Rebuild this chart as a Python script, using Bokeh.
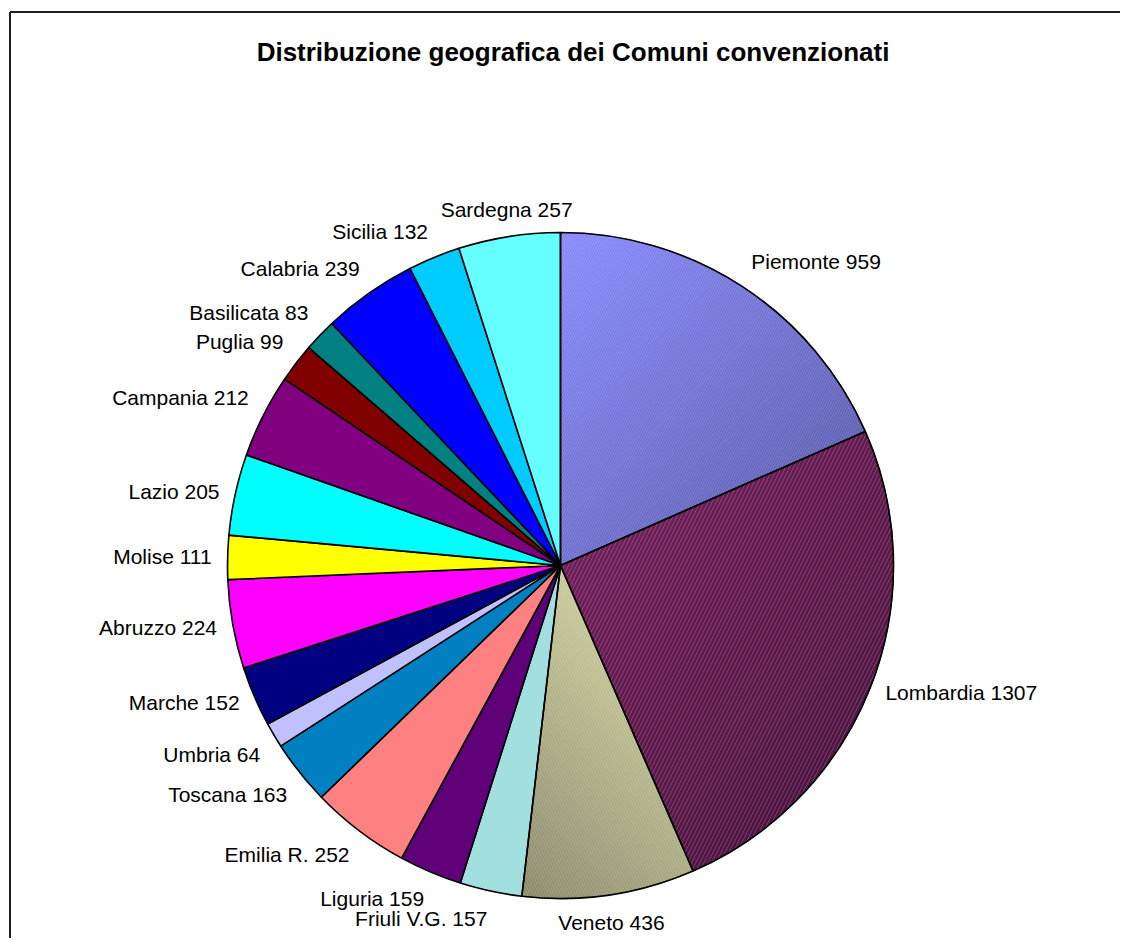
import numpy as np
from bokeh.plotting import figure
from bokeh.models import Range1d, ColumnDataSource
from bokeh.core.properties import value
from bokeh.embed import file_html
from bokeh.resources import INLINE

# ---------------- data ----------------
title_text = "Distribuzione geografica dei Comuni convenzionati"
regions = ["Piemonte", "Lombardia", "Veneto", "Friuli V.G.", "Liguria", "Emilia R.",
           "Toscana", "Umbria", "Marche", "Abruzzo", "Molise", "Lazio", "Campania",
           "Puglia", "Basilicata", "Calabria", "Sicilia", "Sardegna"]
comuni = [959, 1307, 436, 157, 159, 252, 163, 64, 152, 224, 111, 205, 212, 99, 83, 239, 132, 257]
colors = ["#7474E8", "#641A4C", "#C2C290", "#A2E0E0", "#600078", "#FF8080",
          "#0080C0", "#C0C0FF", "#000080", "#FF00FF", "#FFFF00", "#00FFFF", "#800080",
          "#800000", "#008080", "#0000FF", "#00CCFF", "#66FFFF"]
# gradient-filled slices (light end, dark end, direction light->dark, hatch)
grad_light = {"Piemonte": "#8686FF", "Lombardia": "#7A2060", "Veneto": "#E2E2AC"}
grad_dark = {"Piemonte": "#52529E", "Lombardia": "#44123A", "Veneto": "#88886A"}
grad_dir = {"Piemonte": (1.0, -1.0), "Lombardia": (1.0, -1.0), "Veneto": (-1.0, -1.0)}
hatch = {"Piemonte": "/", "Lombardia": "/", "Veneto": "\\"}
hatch_sc = {"Piemonte": 5, "Lombardia": 8, "Veneto": 6}

# ---------------- geometry ----------------
W, H = 1120, 938
cx, cy, R = 560.0, -565.0, 333.0
vals = np.array(comuni, dtype=float)
total = vals.sum()
cum = np.concatenate([[0.0], np.cumsum(vals)])
theta0 = 2 * np.pi * cum[:-1] / total   # clockwise from top
theta1 = 2 * np.pi * cum[1:] / total
start = np.pi / 2 - theta0
end = np.pi / 2 - theta1
mid = (theta0 + theta1) / 2

p = figure(width=W, height=H, x_range=Range1d(0, W), y_range=Range1d(-H, 0),
           output_backend="svg", toolbar_location=None, min_border=0,
           x_axis_location=None, y_axis_location=None)
p.outline_line_color = None
p.grid.visible = False
p.background_fill_color = "white"
p.border_fill_color = "white"

# chart-area frame (top and left edges visible in the window)
fx, fy = 9.5, -11.5
p.segment(x0=[fx, fx], y0=[fy, fy], x1=[W + 10, fx], y1=[fy, -H - 10],
          line_color="#202020", line_width=2)


def hex2rgb(h):
    h = h.lstrip("#")
    return np.array([int(h[i:i + 2], 16) for i in (0, 2, 4)], dtype=float)


def rgb2hex(c):
    c = np.clip(np.round(c), 0, 255).astype(int)
    return "#%02x%02x%02x" % tuple(c)


def clip_half(poly, d, t, keep_ge):
    out = []
    n = len(poly)
    for i in range(n):
        a = poly[i]
        b = poly[(i + 1) % n]
        fa = a[0] * d[0] + a[1] * d[1] - t
        fb = b[0] * d[0] + b[1] * d[1] - t
        if not keep_ge:
            fa, fb = -fa, -fb
        if fa >= 0:
            out.append(a)
        if (fa >= 0) != (fb >= 0):
            s = fa / (fa - fb)
            out.append((a[0] + s * (b[0] - a[0]), a[1] + s * (b[1] - a[1])))
    return out


band_xs, band_ys, band_cols = [], [], []
N = 70
for i, name in enumerate(regions):
    if name not in grad_light:
        continue
    angs = np.linspace(start[i], end[i], 160)
    poly = [(cx, cy)] + [(cx + R * np.cos(a), cy + R * np.sin(a)) for a in angs]
    d = np.array(grad_dir[name])
    d = d / np.linalg.norm(d)
    xs_ = np.array([q[0] for q in poly]); ys_ = np.array([q[1] for q in poly])
    corners = [(xs_.min(), ys_.min()), (xs_.min(), ys_.max()), (xs_.max(), ys_.min()), (xs_.max(), ys_.max())]
    ts = [c[0] * d[0] + c[1] * d[1] for c in corners]
    tmin, tmax = min(ts), max(ts)
    c0, c1 = hex2rgb(grad_light[name]), hex2rgb(grad_dark[name])
    for k in range(N):
        ta = tmin + (tmax - tmin) * k / N
        tb = tmin + (tmax - tmin) * (k + 1) / N
        sub = clip_half(poly, d, ta, True)
        if len(sub) < 3:
            continue
        sub = clip_half(sub, d, tb, False)
        if len(sub) < 3:
            continue
        f = (k + 0.5) / N
        band_xs.append([q[0] for q in sub])
        band_ys.append([q[1] for q in sub])
        band_cols.append(rgb2hex(c0 + (c1 - c0) * f))

p.patches(band_xs, band_ys, fill_color=band_cols, line_color=band_cols, line_width=1)

flat = [i for i, n in enumerate(regions) if n not in grad_light]
grad = [i for i, n in enumerate(regions) if n in grad_light]

src_flat = ColumnDataSource(dict(s=start[flat], e=end[flat], c=[colors[i] for i in flat]))
p.wedge(x=cx, y=cy, radius=R, start_angle="s", end_angle="e", direction="clock",
        fill_color="c", line_color="black", line_width=1.6, source=src_flat)

src_grad = ColumnDataSource(dict(s=start[grad], e=end[grad],
                                 h=[hatch[regions[i]] for i in grad],
                                 hs=[hatch_sc[regions[i]] for i in grad]))
p.wedge(x=cx, y=cy, radius=R, start_angle="s", end_angle="e", direction="clock",
        fill_color=None, hatch_pattern="h", hatch_scale="hs", hatch_color="white",
        hatch_alpha=0.3, hatch_weight=0.6,
        line_color="black", line_width=1.6, source=src_grad)

# ---------------- labels ----------------
gap = 16.0
groups = {}
for i, name in enumerate(regions):
    sx, cyv = np.sin(mid[i]), np.cos(mid[i])
    ax = cx + (R + gap) * sx
    ay = cy + (R + gap) * cyv
    align = "left" if sx > 0.2 else ("right" if sx < -0.2 else "center")
    base = "bottom" if cyv > 0.4 else ("top" if cyv < -0.4 else "middle")
    g = groups.setdefault((align, base), dict(x=[], y=[], t=[]))
    g["x"].append(ax); g["y"].append(ay); g["t"].append(f"{name} {comuni[i]}")

for (align, base), g in groups.items():
    p.text(x="x", y="y", text="t", source=ColumnDataSource(g),
           text_font=value("Liberation Sans"), text_font_size="21px",
           text_color="black", text_align=align, text_baseline=base)

p.text(x=[572.5], y=[-51], text=[title_text], text_font=value("Liberation Sans"),
       text_font_size="26px", text_font_style="bold", text_color="black",
       text_align="center", text_baseline="middle")

open("out.html", "w").write(file_html(p, INLINE))
